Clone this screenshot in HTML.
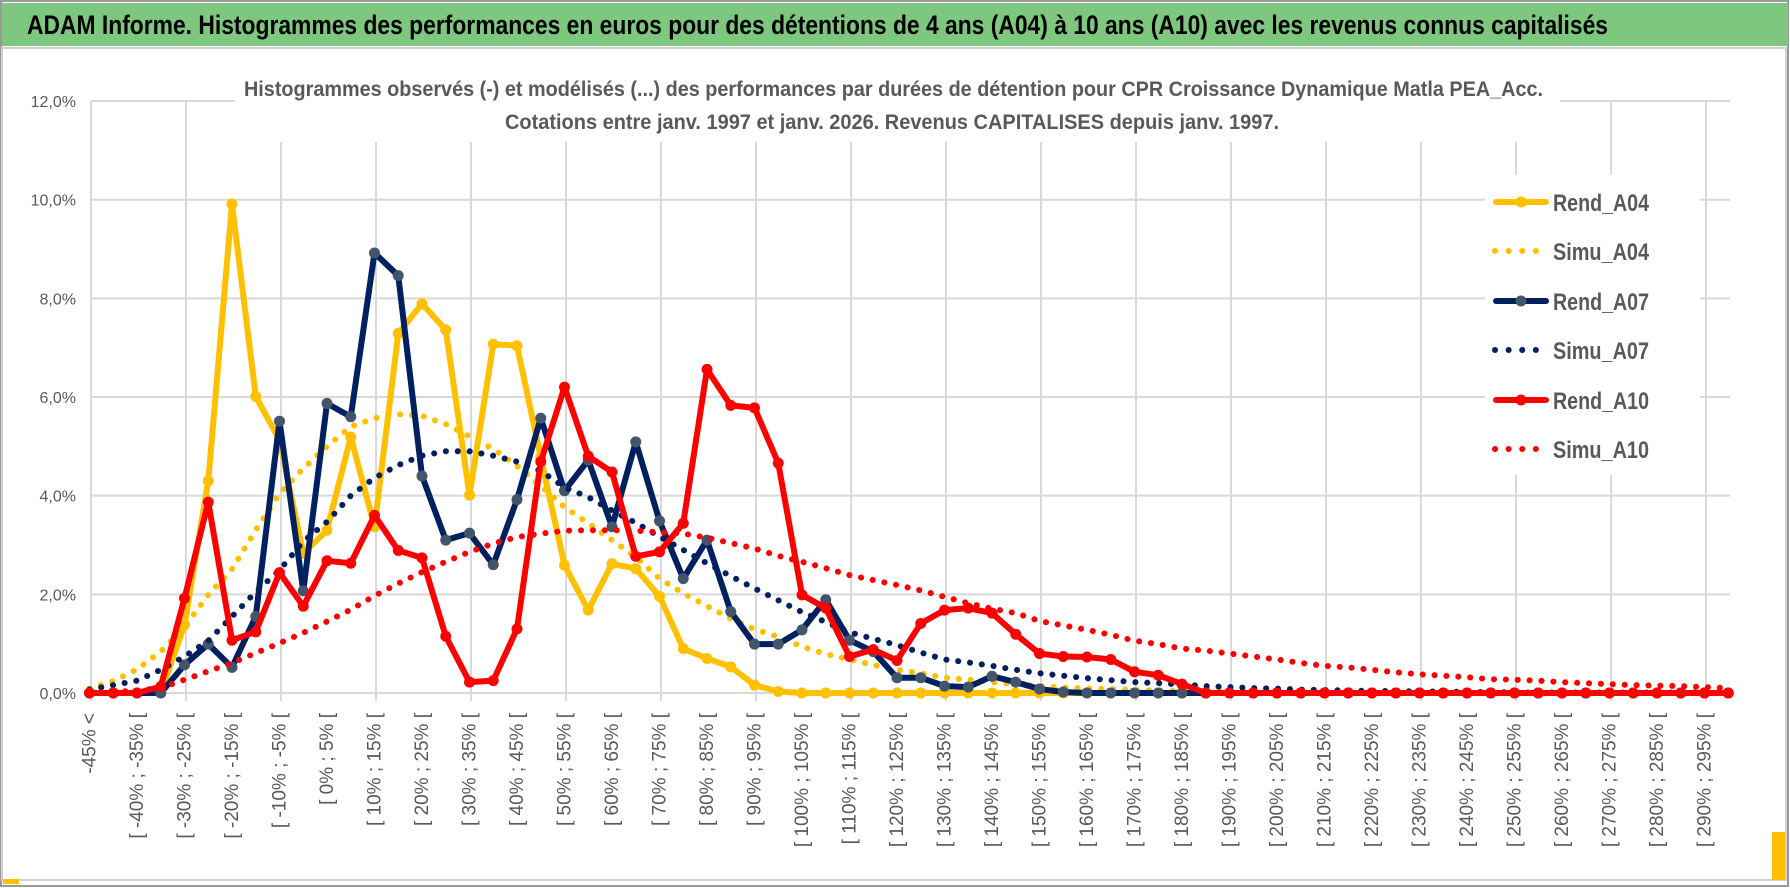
<!DOCTYPE html>
<html><head><meta charset="utf-8"><style>
html,body{margin:0;padding:0;background:#fff;}
svg{display:block;font-family:"Liberation Sans",sans-serif;}
</style></head><body>
<svg id="chart" width="1790" height="888" viewBox="0 0 1790 888" xmlns="http://www.w3.org/2000/svg">
<rect x="0" y="0" width="1790" height="888" fill="#fff"/>
<rect x="1" y="1" width="1787" height="885" fill="none" stroke="#9a9a9a" stroke-width="2"/>
<rect x="2" y="3" width="1786" height="43" fill="#7DC87E"/>
<text x="27" y="34" font-size="27" font-weight="bold" fill="#000" textLength="1581" lengthAdjust="spacingAndGlyphs">ADAM Informe. Histogrammes des performances en euros pour des détentions de 4 ans (A04) à 10 ans (A10) avec les revenus connus capitalisés</text>
<rect x="2" y="48" width="1784" height="832" fill="none" stroke="#d0d0d0" stroke-width="2"/>
<rect x="3" y="879" width="16" height="5" fill="#FFC000"/>
<rect x="1772" y="832" width="13" height="48" fill="#FFC000"/>
<g id="grid"></g>
<rect x="235" y="55" width="1325" height="87" fill="#fff"/>
<text x="244" y="96" font-size="21" font-weight="bold" fill="#595959" textLength="1299" lengthAdjust="spacingAndGlyphs">Histogrammes observés (-) et modélisés (...) des performances par durées de détention pour CPR Croissance Dynamique Matla PEA_Acc.</text>
<text x="505" y="129" font-size="21" font-weight="bold" fill="#595959" textLength="774" lengthAdjust="spacingAndGlyphs">Cotations entre janv. 1997 et janv. 2026. Revenus CAPITALISES depuis janv. 1997.</text>
<g id="yticks"></g>
<g id="xticks"></g>
<g id="series"></g>
<rect x="1485" y="175" width="215" height="300" fill="#fff"/>
<g id="legend"></g>
</svg>
<script>
const yTickValues = [0, 2, 4, 6, 8, 10, 12];
const yTickLabels = ["0,0%", "2,0%", "4,0%", "6,0%", "8,0%", "10,0%", "12,0%"];
const categories = (function(){ const c = ["-45% <"]; for (let k = 1; k < 70; k++) { const lo = -45 + 5*(k-1); c.push("[ " + lo + "% ; " + (lo+5) + "% ["); } return c; })();
const rendA04 = [0,0,0,0,1.38,4.30,9.91,6.01,5.13,2.83,3.30,5.19,3.37,7.29,7.89,7.36,4.01,7.07,7.04,4.78,2.59,1.68,2.62,2.52,1.96,0.90,0.70,0.53,0.16,0.03,0,0,0,0,0,0,0,0,0,0,0,0,0,0,0,0,0,0,0,0,0,0,0,0,0,0,0,0,0,0,0,0,0,0,0,0,0,0,0,0];
const simuA04 = [0.09,0.24,0.48,0.84,1.34,1.99,2.51,3.30,4.04,4.55,5.00,5.40,5.57,5.65,5.62,5.45,5.20,4.95,4.60,4.20,3.77,3.44,3.10,2.76,2.32,2.02,1.76,1.51,1.29,1.14,0.94,0.79,0.68,0.57,0.47,0.40,0.31,0.27,0.22,0.18,0.14,0.11,0.09,0.08,0.06,0.05,0.04,0.03,0.02,0.02,0.01,0.01,0.01,0.01,0.01,0,0,0,0,0,0,0,0,0,0,0,0,0,0,0];
const rendA07 = [0,0,0,0,0.57,0.99,0.52,1.55,5.51,2.07,5.87,5.60,8.92,8.46,4.40,3.10,3.24,2.60,3.92,5.57,4.10,4.72,3.37,5.09,3.49,2.32,3.10,1.65,0.99,0.99,1.28,1.89,1.07,0.84,0.31,0.31,0.14,0.12,0.34,0.22,0.08,0.02,0,0,0,0,0,0,0,0,0,0,0,0,0,0,0,0,0,0,0,0,0,0,0,0,0,0,0,0];
const simuA07 = [0.07,0.16,0.25,0.47,0.74,1.06,1.55,2.05,2.49,3.07,3.47,4.00,4.36,4.62,4.81,4.90,4.90,4.81,4.69,4.50,4.17,3.97,3.70,3.45,3.17,2.90,2.63,2.37,2.12,1.88,1.64,1.44,1.23,1.10,0.97,0.82,0.68,0.62,0.55,0.47,0.40,0.35,0.30,0.26,0.22,0.20,0.17,0.14,0.12,0.10,0.09,0.07,0.06,0.05,0.04,0.04,0.03,0.03,0.02,0.02,0.01,0.01,0.01,0.01,0.01,0.01,0.01,0.01,0.01,0.01];
const rendA10 = [0,0,0,0.13,1.92,3.87,1.07,1.24,2.44,1.76,2.68,2.63,3.60,2.89,2.74,1.15,0.22,0.25,1.30,4.69,6.20,4.80,4.48,2.77,2.86,3.44,6.56,5.83,5.78,4.66,1.99,1.72,0.74,0.88,0.66,1.41,1.68,1.72,1.62,1.19,0.80,0.74,0.73,0.68,0.43,0.36,0.18,0,0,0,0,0,0,0,0,0,0,0,0,0,0,0,0,0,0,0,0,0,0,0];
const simuA10 = [0,0.02,0.05,0.10,0.27,0.44,0.61,0.81,1.01,1.22,1.45,1.69,1.97,2.22,2.45,2.66,2.86,3.03,3.16,3.23,3.29,3.30,3.30,3.29,3.26,3.23,3.15,3.04,2.93,2.78,2.66,2.53,2.39,2.29,2.19,2.08,1.95,1.82,1.71,1.62,1.46,1.37,1.28,1.18,1.06,0.99,0.90,0.86,0.80,0.74,0.68,0.61,0.55,0.52,0.47,0.42,0.38,0.35,0.32,0.28,0.27,0.25,0.22,0.20,0.18,0.16,0.15,0.14,0.12,0.10];
const seriesNames = ["Rend_A04","Simu_A04","Rend_A07","Simu_A07","Rend_A10","Simu_A10"];

const NS = "http://www.w3.org/2000/svg";
const X0 = 89.5, DX = 23.75, Y0 = 693, KY = 49.33;
function xPos(i){ return X0 + DX*i; }
function yPos(v){ return Y0 - v*KY; }
function mk(tag, attrs, parent){ const e = document.createElementNS(NS, tag); for (const k in attrs) e.setAttribute(k, attrs[k]); parent.appendChild(e); return e; }

const grid = document.getElementById('grid');
yTickValues.forEach(function(v){
  const l = mk('line', {x1:91, x2:1730, y1:yPos(v), y2:yPos(v), stroke:'#d9d9d9', 'stroke-width':2}, grid);
  
  
});
for (let k = 0; k <= 17; k++) {
  const gx = 91 + 95*k;
  const l = mk('line', {x1:gx, x2:gx, y1:yPos(12), y2:Y0+8, stroke:'#d9d9d9', 'stroke-width':2}, grid);
  
  
}

const yt = document.getElementById('yticks');
yTickValues.forEach(function(v, idx){
  const t = mk('text', {x:76, y:yPos(v)+6, 'text-anchor':'end', 'font-size':16, fill:'#595959'}, yt);
  t.textContent = yTickLabels[idx];
  
  
});

const xt = document.getElementById('xticks');
categories.forEach(function(c, i){
  if (i % 2 !== 0) return;
  const x = xPos(i) + 6, y = 713;
  const t = mk('text', {x:x, y:y, 'text-anchor':'end', 'font-size':19, fill:'#595959', transform:'rotate(-90 '+x+' '+y+')'}, xt);
  t.textContent = c;
  
  
});

const sg = document.getElementById('series');
function pathFor(arr){ return arr.map(function(v,i){ return (i?'L':'M') + xPos(i).toFixed(2) + ' ' + yPos(v).toFixed(2); }).join(' '); }
function drawSolid(arr, color, markerFill, name){
  const g = mk('g', {}, sg);
  
  
  const p = mk('path', {d:pathFor(arr), fill:'none', stroke:color, 'stroke-width':6, 'stroke-linejoin':'round', 'stroke-linecap':'round'}, g);
  
  
  arr.forEach(function(v,i){
    const c = mk('circle', {cx:xPos(i), cy:yPos(v), r:5.5, fill:markerFill}, g);
    
    
  });
}
function drawDotted(arr, color, name){
  const p = mk('path', {d:pathFor(arr), fill:'none', stroke:color, 'stroke-width':6, 'stroke-linecap':'round', 'stroke-dasharray':'0.1 11.8'}, sg);
  
  
}
drawSolid(rendA04, '#FFC000', '#FFC000', 'rend-a04');
drawDotted(simuA04, '#FFC000', 'simu-a04');
drawSolid(rendA07, '#002060', '#44546A', 'rend-a07');
drawDotted(simuA07, '#002060', 'simu-a07');
drawSolid(rendA10, '#FF0000', '#FF0000', 'rend-a10');
drawDotted(simuA10, '#FF0000', 'simu-a10');

const lg = document.getElementById('legend');
const legColors = ['#FFC000','#FFC000','#002060','#002060','#FF0000','#FF0000'];
const legMarker = ['#FFC000',null,'#44546A',null,'#FF0000',null];
const legY = [202, 251, 301, 350, 400, 449];
seriesNames.forEach(function(n, k){
  const g = mk('g', {}, lg);
  
  
  const y = legY[k];
  if (legMarker[k]) {
    mk('line', {x1:1496, x2:1546, y1:y, y2:y, stroke:legColors[k], 'stroke-width':6, 'stroke-linecap':'round'}, g);
    mk('circle', {cx:1521, cy:y, r:5.5, fill:legMarker[k]}, g);
  } else {
    mk('line', {x1:1495, x2:1546, y1:y, y2:y, stroke:legColors[k], 'stroke-width':6, 'stroke-linecap':'round', 'stroke-dasharray':'0.1 13.5'}, g);
  }
  const t = mk('text', {x:1553, y:y+9, 'font-size':24, 'font-weight':'bold', fill:'#595959', textLength:96, lengthAdjust:'spacingAndGlyphs'}, g);
  t.textContent = n;
});
</script>
</body></html>
